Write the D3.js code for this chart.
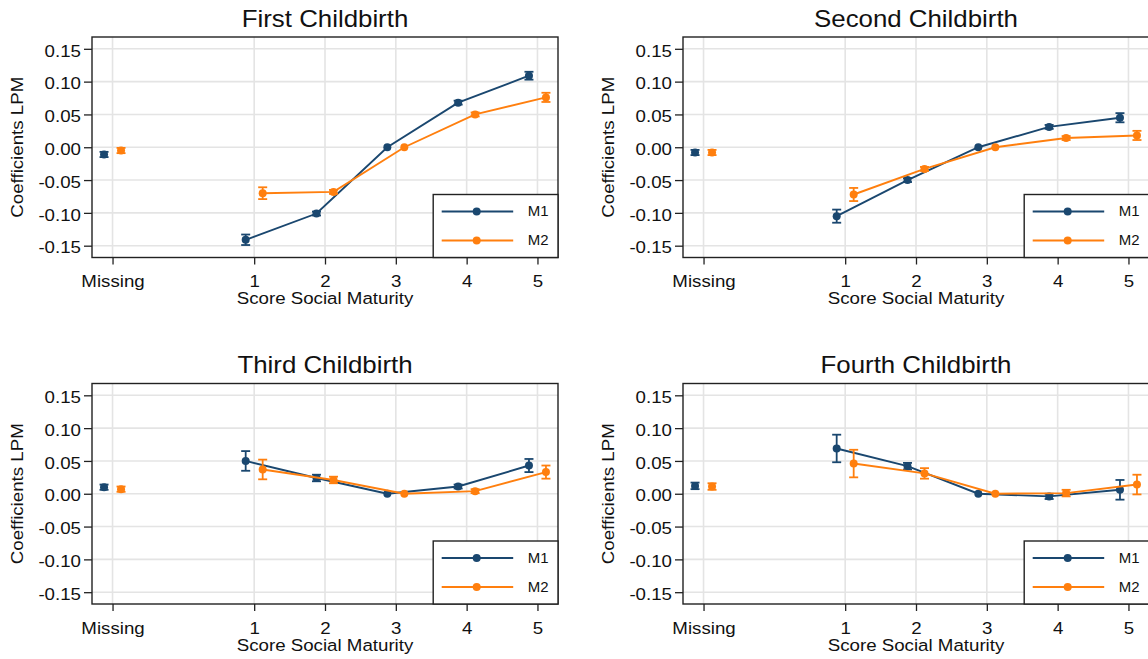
<!DOCTYPE html>
<html>
<head>
<meta charset="utf-8">
<script src="https://cdn.jsdelivr.net/npm/d3@7/dist/d3.min.js"></script>
<style>
  html, body { margin: 0; padding: 0; background: #ffffff; }
  svg { display: block; font-family: "Liberation Sans", Arial, Helvetica, sans-serif; }
</style>
</head>
<body>
<svg id="chart" width="1148" height="659"></svg>
<script>
// ---------------- DATA ----------------
const panelTitles = ["First Childbirth", "Second Childbirth", "Third Childbirth", "Fourth Childbirth"];
const xCategories = ["Missing", "1", "2", "3", "4", "5"];
const xCodes = [-1, 1, 2, 3, 4, 5];
const yTicks = [0.15, 0.10, 0.05, 0.00, -0.05, -0.10, -0.15];
const seriesNames = ["M1", "M2"];
const xAxisTitle = "Score Social Maturity";
const yAxisTitle = "Coefficients LPM";

// coefficients per category (Missing, 1..5) and half-width of the CI
const firstM1 = [-0.011, -0.141, -0.101, 0.000, 0.068, 0.109];
const firstM1ci = [0.004, 0.008, 0.003, 0, 0.003, 0.006];
const firstM2 = [-0.005, -0.070, -0.068, 0.000, 0.050, 0.076];
const firstM2ci = [0.004, 0.009, 0.003, 0, 0.003, 0.007];

const secondM1 = [-0.008, -0.105, -0.050, 0.000, 0.031, 0.045];
const secondM1ci = [0.004, 0.010, 0.003, 0, 0.003, 0.007];
const secondM2 = [-0.008, -0.072, -0.033, 0.000, 0.014, 0.018];
const secondM2ci = [0.004, 0.010, 0.003, 0, 0.003, 0.007];

const thirdM1 = [0.010, 0.050, 0.024, 0.000, 0.011, 0.043];
const thirdM1ci = [0.004, 0.015, 0.005, 0, 0.003, 0.010];
const thirdM2 = [0.007, 0.037, 0.021, 0.000, 0.004, 0.033];
const thirdM2ci = [0.004, 0.015, 0.005, 0, 0.003, 0.010];

const fourthM1 = [0.012, 0.069, 0.042, 0.000, -0.004, 0.006];
const fourthM1ci = [0.005, 0.021, 0.005, 0, 0.004, 0.015];
const fourthM2 = [0.011, 0.046, 0.031, 0.000, 0.001, 0.014];
const fourthM2ci = [0.005, 0.021, 0.008, 0, 0.005, 0.015];

const panelSeries = [
  [[firstM1, firstM1ci], [firstM2, firstM2ci]],
  [[secondM1, secondM1ci], [secondM2, secondM2ci]],
  [[thirdM1, thirdM1ci], [thirdM2, thirdM2ci]],
  [[fourthM1, fourthM1ci], [fourthM2, fourthM2ci]]
];

// ---------------- STYLE / LAYOUT ----------------
const colors = ["#1a476f", "#ff7f0e"];
const offsets = [-0.12, 0.12];
const gridColor = "#e4e4e4";
const frameColor = "#222222";
const FS = 17, SX = 1.1;

const svg = d3.select("#chart");
svg.append("rect").attr("width", 1148).attr("height", 659).attr("fill", "#fff");

const colLefts = [92, 683];
const rowTops = [37, 383.5];
const plotW = 466, plotH = 220.5;

function sText(g, x, y, str, size, anchor, rot, sx) {
  return g.append("text")
    .attr("transform", `translate(${x},${y}) rotate(${rot || 0}) scale(${sx || SX},1)`)
    .attr("text-anchor", anchor)
    .attr("font-size", size)
    .attr("fill", "#111")
    .text(str);
}

panelTitles.forEach((title, pi) => {
  const left = colLefts[pi % 2], top = rowTops[Math.floor(pi / 2)];
  const right = left + plotW, bottom = top + plotH;
  const g = svg.append("g");

  const x = d3.scaleLinear().domain([-1.29, 5.29]).range([left, right]);
  const y = d3.scaleLinear().domain([-0.168, 0.168]).range([bottom, top]);

  // grid
  g.append("g").selectAll("line.h").data(yTicks).join("line")
    .attr("x1", left).attr("x2", right)
    .attr("y1", d => y(d)).attr("y2", d => y(d))
    .attr("stroke", gridColor).attr("stroke-width", 1.6);
  g.append("g").selectAll("line.v").data(xCodes).join("line")
    .attr("x1", d => x(d)).attr("x2", d => x(d))
    .attr("y1", top).attr("y2", bottom)
    .attr("stroke", gridColor).attr("stroke-width", 1.6);

  // axes
  const yAxis = d3.axisLeft(y).tickValues(yTicks).tickSize(8).tickFormat(d => d.toFixed(2));
  const ya = g.append("g").attr("transform", `translate(${left},0)`).call(yAxis);
  ya.select(".domain").remove();
  ya.selectAll(".tick line").attr("stroke", frameColor).attr("stroke-width", 1.3);
  ya.selectAll(".tick text")
    .attr("x", null).attr("dy", null)
    .attr("dominant-baseline", "central")
    .attr("transform", `translate(-11,1.5) scale(${SX},1)`)
    .attr("font-size", FS).attr("font-family", null).attr("fill", "#111");

  const xAxis = d3.axisBottom(x).tickValues(xCodes).tickSize(7)
    .tickFormat((d, i) => xCategories[i]);
  const xa = g.append("g").attr("transform", `translate(0,${bottom})`).call(xAxis);
  xa.select(".domain").remove();
  xa.selectAll(".tick line").attr("stroke", frameColor).attr("stroke-width", 1.3);
  xa.selectAll(".tick text")
    .attr("y", null).attr("dy", null)
    .attr("transform", `translate(0,29.5) scale(${SX},1)`)
    .attr("font-size", FS).attr("font-family", null).attr("fill", "#111");

  // frame
  g.append("rect").attr("x", left).attr("y", top).attr("width", plotW).attr("height", plotH)
    .attr("fill", "none").attr("stroke", frameColor).attr("stroke-width", 1.4);

  // titles
  sText(g, (left + right) / 2, top - 10.3, title, 23.5, "middle", 0);
  sText(g, (left + right) / 2, bottom + 46.5, xAxisTitle, FS, "middle", 0);
  sText(g, left - 69, (top + bottom) / 2, yAxisTitle, FS, "middle", -90);

  // series
  panelSeries[pi].forEach(([vals, ci], si) => {
    const col = colors[si];
    const pts = vals.map((v, i) => ({ xc: xCodes[i] + offsets[si], v, ci: ci[i], cat: xCategories[i] }));
    const sg = g.append("g");
    const line = d3.line().x(d => x(d.xc)).y(d => y(d.v));
    sg.append("path").datum(pts.filter(d => d.cat !== "Missing"))
      .attr("d", line).attr("fill", "none").attr("stroke", col).attr("stroke-width", 1.9);
    const eb = pts.filter(d => d.ci > 0);
    sg.selectAll("line.eb").data(eb).join("line")
      .attr("x1", d => x(d.xc)).attr("x2", d => x(d.xc))
      .attr("y1", d => y(d.v - d.ci)).attr("y2", d => y(d.v + d.ci))
      .attr("stroke", col).attr("stroke-width", 1.8);
    [1, -1].forEach(s => {
      sg.selectAll("line.cap" + s).data(eb).join("line")
        .attr("x1", d => x(d.xc) - 4.5).attr("x2", d => x(d.xc) + 4.5)
        .attr("y1", d => y(d.v + s * d.ci)).attr("y2", d => y(d.v + s * d.ci))
        .attr("stroke", col).attr("stroke-width", 1.8);
    });
    sg.selectAll("circle").data(pts).join("circle")
      .attr("cx", d => x(d.xc)).attr("cy", d => y(d.v)).attr("r", 4)
      .attr("fill", col);
  });

  // legend
  const lx = right - 124.8, ly = bottom - 63;
  const lg = g.append("g");
  lg.append("rect").attr("x", lx).attr("y", ly).attr("width", 124.8).attr("height", 63)
    .attr("fill", "#fff").attr("stroke", frameColor).attr("stroke-width", 1.4);
  seriesNames.forEach((name, si) => {
    const yy = ly + 17 + si * 29;
    lg.append("line").attr("x1", lx + 8.5).attr("x2", lx + 80).attr("y1", yy).attr("y2", yy)
      .attr("stroke", colors[si]).attr("stroke-width", 1.9);
    lg.append("circle").attr("cx", lx + 43.5).attr("cy", yy).attr("r", 4).attr("fill", colors[si]);
    sText(lg, lx + 94.5, yy, name, 14, "start", 0, 1.07).attr("dominant-baseline", "central");
  });
});
</script>
</body>
</html>
